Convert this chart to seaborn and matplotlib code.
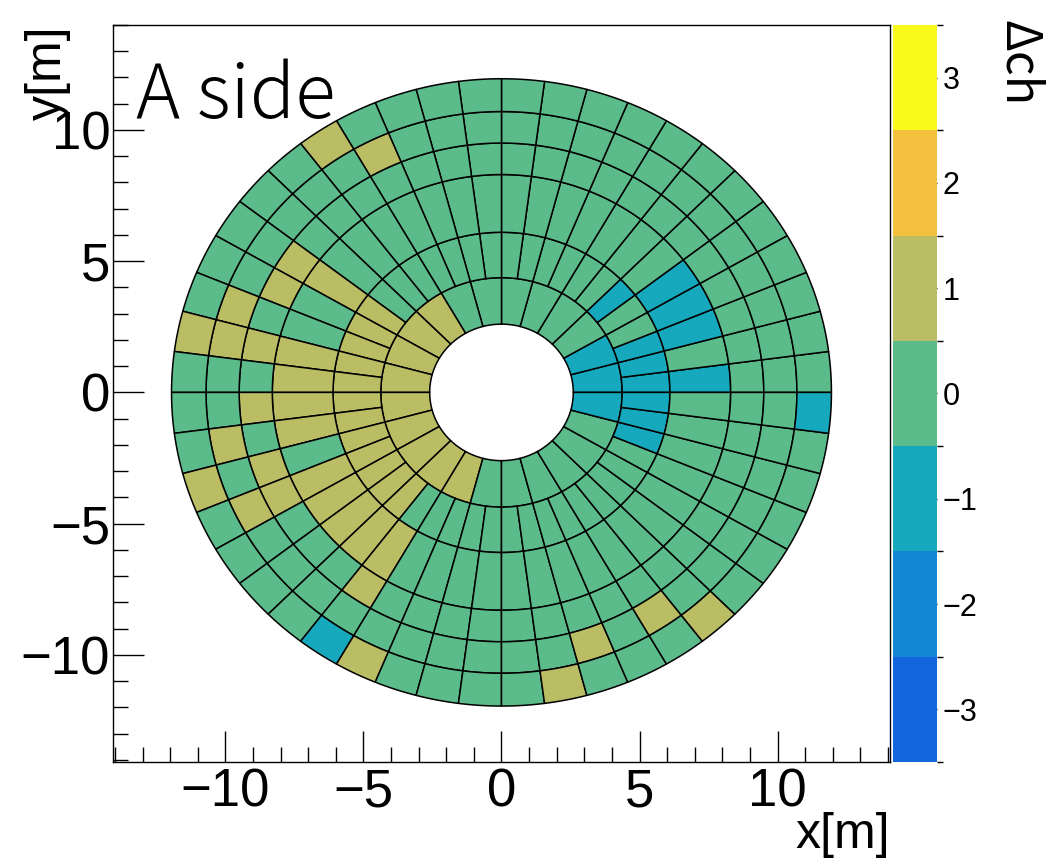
import numpy as np
import matplotlib
matplotlib.use("Agg")
import matplotlib.pyplot as plt
import seaborn as sns
from matplotlib.collections import PolyCollection
from matplotlib.colors import ListedColormap, BoundaryNorm
from matplotlib.ticker import MultipleLocator

# ---------------- data ----------------
ring_edges = [2.6, 4.37, 6.1, 8.3, 9.5, 10.7, 11.95]   # radii [m]
ring_sectors = [24, 48, 48, 48, 48, 48]               # phi segmentation per ring

# delta-ch per sector, counted counter-clockwise from +x axis
ring1 = [-1, -1, 0, 0, 0, 0,  0, 0, 1, 1, 1, 1,
         1, 1, 1, 1, 1, 0,  0, 0, 0, 0, 0, -1]
ring2 = [-1, -1, -1, 0, 0, -1, 0, 0, 0, 0, 0, 0,
         0, 0, 0, 0, 0, 0, 0, 1, 1, 1, 1, 1,
         1, 1, 1, 1, 1, 1, 1, 0, 0, 0, 0, 0,
         0, 0, 0, 0, 0, 0, 0, 0, 0, -1, -1, -1]
ring3 = [-1, 0, -1, -1, -1, 0, 0, 0, 0, 0, 0, 0,
         0, 0, 0, 0, 0, 0, 0, 1, 0, 0, 1, 1,
         1, 1, 0, 1, 1, 1, 1, 1, 0, 0, 0, 0,
         0, 0, 0, 0, 0, 0, 0, 0, 0, 0, 0, 0]
ring4 = [0, 0, 0, 0, 0, 0, 0, 0, 0, 0, 0, 0,
         0, 0, 0, 0, 0, 0, 0, 1, 1, 0, 1, 0,
         1, 0, 1, 1, 0, 0, 0, 1, 0, 0, 0, 0,
         0, 0, 0, 0, 0, 0, 0, 0, 0, 0, 0, 0]
ring5 = [0, 0, 0, 0, 0, 0, 0, 0, 0, 0, 0, 0,
         0, 0, 0, 1, 0, 0, 0, 0, 0, 1, 1, 0,
         0, 1, 0, 1, 0, 0, 0, 0, 0, 0, 0, 0,
         0, 0, 1, 0, 1, 0, 0, 0, 0, 0, 0, 0]
ring6 = [0, 0, 0, 0, 0, 0, 0, 0, 0, 0, 0, 0,
         0, 0, 0, 0, 1, 0, 0, 0, 0, 0, 1, 0,
         0, 0, 1, 0, 0, 0, 0, -1, 1, 0, 0, 0,
         0, 1, 0, 0, 0, 1, 0, 0, 0, 0, 0, -1]
ring_values = [ring1, ring2, ring3, ring4, ring5, ring6]

levels = [-3, -2, -1, 0, 1, 2, 3]
level_colors = ["#1464DC", "#1487D3", "#16A9BE", "#5CBB8A",
                "#BABD63", "#F4C03D", "#F9F91A"]
axis_ticks = [-10, -5, 0, 5, 10]
axis_tick_labels = ["\u221210", "\u22125", "0", "5", "10"]
level_labels = ["\u22123", "\u22122", "\u22121", "0", "1", "2", "3"]

# ---------------- figure ----------------
sns.set_theme(style="white")
plt.rcParams["font.family"] = ["Liberation Sans", "DejaVu Sans"]
for key in ["text.color", "axes.labelcolor", "xtick.color", "ytick.color",
            "axes.edgecolor"]:
    plt.rcParams[key] = "black"
cjk = ["Noto Sans CJK JP", "DejaVu Sans"]

fig = plt.figure(figsize=(10.61, 8.60), dpi=100)
ax = fig.add_axes([0.1065, 0.1140, 0.7323, 0.8570])
cax = fig.add_axes([0.8417, 0.1140, 0.0415, 0.8570])

cmap = ListedColormap(level_colors)
bounds = np.arange(-3.5, 3.6, 1.0)
norm = BoundaryNorm(bounds, cmap.N)

polys, vals = [], []
for i, vals_ring in enumerate(ring_values):
    r0, r1 = ring_edges[i], ring_edges[i + 1]
    n = ring_sectors[i]
    for k, v in enumerate(vals_ring):
        t = np.linspace(2 * np.pi * k / n, 2 * np.pi * (k + 1) / n, 24)
        xs = np.concatenate([r0 * np.cos(t), r1 * np.cos(t[::-1])])
        ys = np.concatenate([r0 * np.sin(t), r1 * np.sin(t[::-1])])
        polys.append(np.column_stack([xs, ys]))
        vals.append(v)

pc = PolyCollection(polys, array=np.array(vals, float), cmap=cmap, norm=norm,
                    edgecolors="black", linewidths=1.1)
ax.add_collection(pc)

ax.set_xlim(-14.07, 14.07)
ax.set_ylim(-14.08, 14.0)
ax.set_facecolor("white")
for s in ax.spines.values():
    s.set_color("black")
    s.set_linewidth(1.0)

ax.xaxis.set_minor_locator(MultipleLocator(1))
ax.yaxis.set_minor_locator(MultipleLocator(1))
ax.set_xticks(axis_ticks)
ax.set_xticklabels(axis_tick_labels)
ax.set_yticks(axis_ticks)
ax.set_yticklabels(axis_tick_labels)
ax.tick_params(which="both", direction="in", top=False, right=False,
               bottom=True, left=True, color="black", labelcolor="black",
               width=1.0)
ax.tick_params(which="major", length=22, labelsize=38)
ax.tick_params(axis="x", which="major", pad=4)
ax.tick_params(axis="y", which="major", pad=2)
ax.tick_params(which="minor", length=11)

fig.text(890 / 1061, 1 - 848 / 860, "x[m]", ha="right", va="baseline",
         fontsize=36, color="black")
fig.text(25 / 1061, 1 - 25 / 860, "y[m]", ha="left", va="top",
         rotation=90, fontsize=36, color="black")
ax.text(0.03, 0.955, "A side", transform=ax.transAxes, ha="left", va="top",
        fontsize=54, family=cjk, fontweight="light", color="black")

cb = fig.colorbar(pc, cax=cax, boundaries=bounds, ticks=levels)
cb.outline.set_visible(False)
cax.yaxis.set_ticks_position("right")
cax.tick_params(direction="in", length=9, width=1.0, labelsize=22, pad=4,
                color="black", labelcolor="black")
cax.set_yticklabels(level_labels)
fig.text(994 / 1061, 1 - 20 / 860, "\u0394ch", rotation=-90, ha="left",
         va="top", fontsize=35, family=cjk, color="black")

fig.savefig("out.png", dpi=100, facecolor="white")
